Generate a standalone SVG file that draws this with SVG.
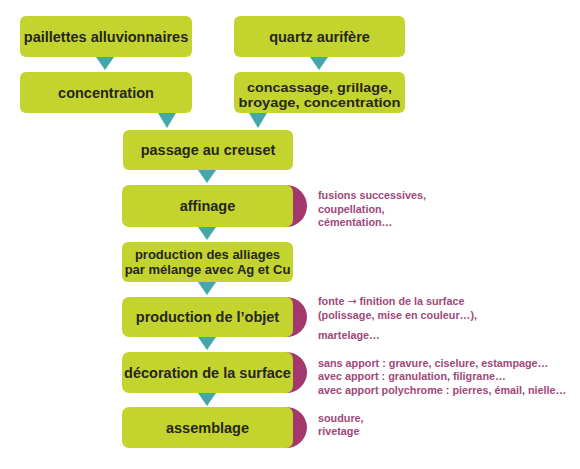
<svg xmlns="http://www.w3.org/2000/svg" width="580" height="469" viewBox="0 0 580 469">
<style>
.box{fill:#c4d42e}
.bump{fill:#a3386f}
.tri{fill:#45a8a4}
.t{font-family:"Liberation Sans",Arial,sans-serif;font-weight:bold;font-size:14.5px;fill:#26261a;text-anchor:middle}
.t2{font-size:13.5px}
.t3{font-size:13px}
.n{font-family:"Liberation Sans",Arial,sans-serif;font-weight:bold;font-size:10.8px;fill:#a0487a}
.ar{font-family:"DejaVu Sans",sans-serif;font-weight:normal}
</style>
<rect width="580" height="469" fill="#ffffff"/>
<g id="connectors">
<polygon class="tri" points="96,57 114,57 105,70"/>
<polygon class="tri" points="310,57 328,57 319,70"/>
<polygon class="tri" points="158,113 176,113 167,128"/>
<polygon class="tri" points="249,113 267,113 258,128"/>
<polygon class="tri" points="198,170 216,170 207,183"/>
<polygon class="tri" points="198,227 216,227 207,240"/>
<polygon class="tri" points="198,282 216,282 207,295"/>
<polygon class="tri" points="198,337 216,337 207,350"/>
<polygon class="tri" points="198,393 216,393 207,406"/>
</g>
<g id="paillettes">
<rect class="box" x="20" y="16" width="172" height="41" rx="6"/>
<text class="t" x="106" y="42">paillettes alluvionnaires</text>
</g>
<g id="quartz">
<rect class="box" x="234" y="16" width="171" height="41" rx="6"/>
<text class="t" x="319.5" y="42">quartz aurifère</text>
</g>
<g id="concentration">
<rect class="box" x="20" y="72" width="172" height="41" rx="6"/>
<text class="t" x="106" y="97.5">concentration</text>
</g>
<g id="concassage">
<rect class="box" x="234" y="72" width="171" height="41" rx="6"/>
<text class="t t2" x="319.5" y="91.5" textLength="145" lengthAdjust="spacingAndGlyphs">concassage, grillage,</text>
<text class="t t2" x="319.5" y="106.5" textLength="162" lengthAdjust="spacingAndGlyphs">broyage, concentration</text>
</g>
<g id="creuset">
<rect class="box" x="123" y="130" width="170" height="40" rx="6"/>
<text class="t" x="208" y="155">passage au creuset</text>
</g>
<g id="affinage">
<path class="bump" d="M286,185 A21,21 0 0 1 286,227 Z"/>
<rect class="box" x="122" y="185" width="171" height="42" rx="7"/>
<text class="t" x="207.5" y="211">affinage</text>
<text class="n" x="318" y="198.5">fusions successives,</text>
<text class="n" x="318" y="212.5">coupellation,</text>
<text class="n" x="318" y="226">cémentation…</text>
</g>
<g id="alliages">
<rect class="box" x="122" y="242" width="171" height="40" rx="6"/>
<text class="t t3" x="207.5" y="259">production des alliages</text>
<text class="t t3" x="207.5" y="274">par mélange avec Ag et Cu</text>
</g>
<g id="objet">
<path class="bump" d="M286,297 A21,20 0 0 1 286,337 Z"/>
<rect class="box" x="122" y="297" width="171" height="40" rx="7"/>
<text class="t" x="207.5" y="322">production de l’objet</text>
<text class="n" x="318" y="305">fonte <tspan class="ar">→</tspan> finition de la surface</text>
<text class="n" x="318" y="319">(polissage, mise en couleur…),</text>
<text class="n" x="318" y="339">martelage…</text>
</g>
<g id="decoration">
<path class="bump" d="M286,352 A21,20.5 0 0 1 286,393 Z"/>
<rect class="box" x="122" y="352" width="171" height="41" rx="7"/>
<text class="t" x="207.5" y="377.5">décoration de la surface</text>
<text class="n" x="318" y="366.5">sans apport : gravure, ciselure, estampage…</text>
<text class="n" x="318" y="380">avec apport : granulation, filigrane…</text>
<text class="n" x="318" y="394">avec apport polychrome : pierres, émail, nielle…</text>
</g>
<g id="assemblage">
<path class="bump" d="M286,407 A21,20.5 0 0 1 286,448 Z"/>
<rect class="box" x="122" y="407" width="171" height="41" rx="7"/>
<text class="t" x="207.5" y="432.5">assemblage</text>
<text class="n" x="318" y="421.5">soudure,</text>
<text class="n" x="318" y="434.5">rivetage</text>
</g>
</svg>
